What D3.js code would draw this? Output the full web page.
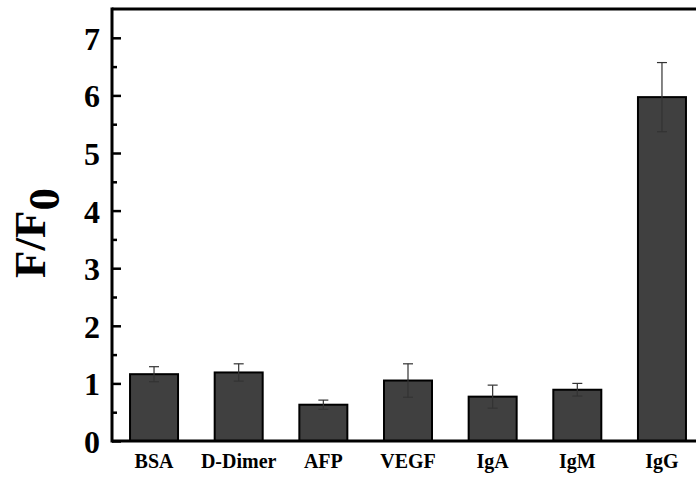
<!DOCTYPE html>
<html>
<head>
<meta charset="utf-8">
<script src="https://cdn.jsdelivr.net/npm/d3@7"></script>
<style>
  body { margin: 0; background: #fff; }
  svg { display: block; }
  svg text { font-family: "Liberation Serif", "Times New Roman", serif; font-weight: bold; }
</style>
</head>
<body>
<svg id="chart" width="696" height="477"></svg>
<script>
var categories = ["BSA", "D-Dimer", "AFP", "VEGF", "IgA", "IgM", "IgG"];
var values = [1.16, 1.19, 0.63, 1.05, 0.77, 0.89, 5.97];
var errors = [0.13, 0.15, 0.08, 0.29, 0.2, 0.11, 0.6];
var yTicks = [0, 1, 2, 3, 4, 5, 6, 7];

var svg = d3.select("#chart");
var margin = {top: 9, left: 112, bottom: 36};
var height = 477 - margin.top - margin.bottom;
var plotW = 592; // plot runs past the right edge, cropped in the original

var x = d3.scaleBand().domain(categories).range([0, plotW]).paddingInner(0.433).paddingOuter(0.213);
var y = d3.scaleLinear().domain([0, 7.5]).range([height, 0]);

var g = svg.append("g").attr("transform", "translate(" + margin.left + "," + margin.top + ")");

// bars
g.selectAll("rect.bar").data(values).enter().append("rect")
  .attr("class", "bar")
  .attr("x", function(d, i) { return x(categories[i]); })
  .attr("y", function(d) { return y(d); })
  .attr("width", x.bandwidth())
  .attr("height", function(d) { return y(0) - y(d); })
  .style("fill", "#404040")
  .style("stroke", "#000")
  .style("stroke-width", 2);

// error bars
var err = g.selectAll("g.err").data(values).enter().append("g").attr("class", "err")
  .attr("transform", function(d, i) { return "translate(" + (x(categories[i]) + x.bandwidth() / 2) + ",0)"; });
err.append("line")
  .attr("y1", function(d, i) { return y(d + errors[i]); })
  .attr("y2", function(d, i) { return y(d - errors[i]); })
  .style("stroke", "#333").style("stroke-width", 1.2);
err.append("line")
  .attr("x1", -5).attr("x2", 5)
  .attr("y1", function(d, i) { return y(d + errors[i]); })
  .attr("y2", function(d, i) { return y(d + errors[i]); })
  .style("stroke", "#333").style("stroke-width", 1.2);
err.append("line")
  .attr("x1", -5).attr("x2", 5)
  .attr("y1", function(d, i) { return y(d - errors[i]); })
  .attr("y2", function(d, i) { return y(d - errors[i]); })
  .style("stroke", "#333").style("stroke-width", 1.2);

// y axis: major ticks inward, minor ticks at halves
var yAxis = g.append("g").call(d3.axisLeft(y).tickValues(yTicks).tickSize(-9).tickPadding(12).tickFormat(d3.format("d")));
yAxis.attr("font-family", null);
yAxis.select(".domain").remove();
yAxis.selectAll(".tick line").style("stroke", "#000").style("stroke-width", 2.5);
yAxis.selectAll("text").style("font-size", "32px").attr("dy", "0.36em").attr("x", -12);
var minor = g.append("g").call(d3.axisLeft(y).tickValues([0.5, 1.5, 2.5, 3.5, 4.5, 5.5, 6.5]).tickSize(-5).tickFormat(""));
minor.select(".domain").remove();
minor.selectAll(".tick line").style("stroke", "#000").style("stroke-width", 2.5);

// frame: left, bottom, top
g.append("line").attr("x1", 0).attr("x2", 0).attr("y1", -1.5).attr("y2", height + 1.5)
  .style("stroke", "#000").style("stroke-width", 3);
g.append("line").attr("x1", 0).attr("x2", plotW).attr("y1", y(0)).attr("y2", y(0))
  .style("stroke", "#000").style("stroke-width", 3);
g.append("line").attr("x1", 0).attr("x2", plotW).attr("y1", 0).attr("y2", 0)
  .style("stroke", "#000").style("stroke-width", 3);

// x labels
var xAxis = g.append("g").attr("transform", "translate(0," + height + ")")
  .call(d3.axisBottom(x).tickSize(0).tickPadding(13));
xAxis.attr("font-family", null);
xAxis.select(".domain").remove();
xAxis.selectAll("text").style("font-size", "20px").attr("dy", "0.71em");

// y title F/F0
var title = svg.append("text")
  .attr("transform", "translate(45,233) rotate(-90)")
  .attr("text-anchor", "middle")
  .style("font-size", "45px");
title.append("tspan").text("F/F");
title.append("tspan").attr("dy", 14).text("0");
</script>
</body>
</html>
